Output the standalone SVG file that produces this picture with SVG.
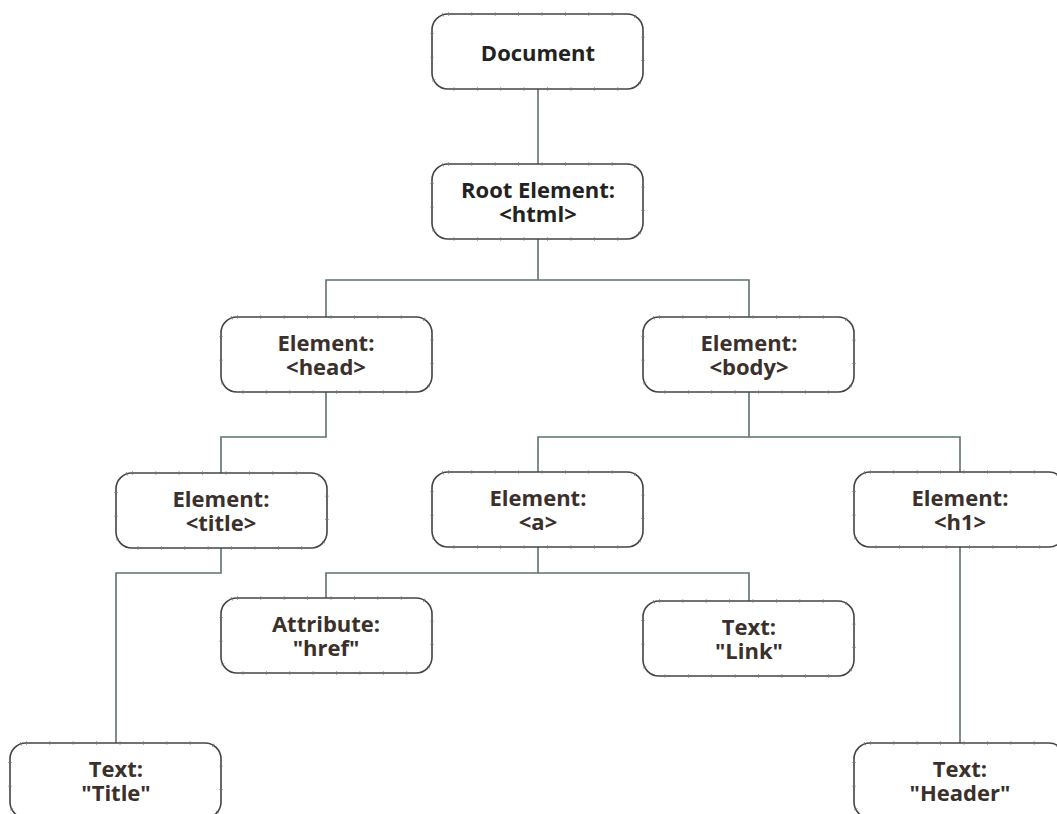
<svg xmlns="http://www.w3.org/2000/svg" width="1057" height="814" viewBox="0 0 1057 814">
<style>
.box{fill:#fff;stroke:#444;stroke-width:1.6}
.tick{fill:none;stroke:#777;stroke-width:3.5;stroke-dasharray:0.8 22.6}
.lbl{font-family:"Open Sans",sans-serif;font-weight:700;font-size:22px;fill:#3b302b;text-anchor:middle}
.dk{fill:#222}
.conn{fill:none;stroke:#5d736b;stroke-width:1.6}
</style>
<rect width="1057" height="814" fill="#fff"/>
<g id="connectors" class="conn">
<path d="M538 89V164"/>
<path d="M538 239V280M326 317V280H749V317"/>
<path d="M326 392V437H221V473"/>
<path d="M749 392V437M538 472V437H960V472"/>
<path d="M221 548V573H116V743"/>
<path d="M538 547V573M326 598V573H749V601"/>
<path d="M960 547V743"/>
</g>
<g id="document"><rect class="box" x="432" y="14" width="211" height="75" rx="16"/><rect class="tick" x="432" y="14" width="211" height="75" rx="16"/><text class="lbl dk" x="538" y="61">Document</text></g>
<g id="root"><rect class="box" x="432" y="164" width="211" height="75" rx="16"/><rect class="tick" x="432" y="164" width="211" height="75" rx="16"/><text class="lbl dk" x="538" y="198">Root Element:<tspan x="538" dy="24">&lt;html&gt;</tspan></text></g>
<g id="head"><rect class="box" x="221" y="317" width="211" height="75" rx="16"/><rect class="tick" x="221" y="317" width="211" height="75" rx="16"/><text class="lbl" x="326" y="351">Element:<tspan x="326" dy="24">&lt;head&gt;</tspan></text></g>
<g id="body"><rect class="box" x="643" y="317" width="211" height="75" rx="16"/><rect class="tick" x="643" y="317" width="211" height="75" rx="16"/><text class="lbl" x="749" y="351">Element:<tspan x="749" dy="24">&lt;body&gt;</tspan></text></g>
<g id="title"><rect class="box" x="116" y="473" width="211" height="75" rx="16"/><rect class="tick" x="116" y="473" width="211" height="75" rx="16"/><text class="lbl" x="221" y="507">Element:<tspan x="221" dy="24">&lt;title&gt;</tspan></text></g>
<g id="a"><rect class="box" x="432" y="472" width="211" height="75" rx="16"/><rect class="tick" x="432" y="472" width="211" height="75" rx="16"/><text class="lbl" x="538" y="506">Element:<tspan x="538" dy="24">&lt;a&gt;</tspan></text></g>
<g id="h1"><rect class="box" x="854" y="472" width="211" height="75" rx="16"/><rect class="tick" x="854" y="472" width="211" height="75" rx="16"/><text class="lbl" x="960" y="506">Element:<tspan x="960" dy="24">&lt;h1&gt;</tspan></text></g>
<g id="href"><rect class="box" x="221" y="598" width="211" height="75" rx="16"/><rect class="tick" x="221" y="598" width="211" height="75" rx="16"/><text class="lbl" x="326" y="632">Attribute:<tspan x="326" dy="24">"href"</tspan></text></g>
<g id="link"><rect class="box" x="643" y="601" width="211" height="75" rx="16"/><rect class="tick" x="643" y="601" width="211" height="75" rx="16"/><text class="lbl" x="749" y="635">Text:<tspan x="749" dy="24">"Link"</tspan></text></g>
<g id="text-title"><rect class="box" x="10" y="743" width="211" height="75" rx="16"/><rect class="tick" x="10" y="743" width="211" height="75" rx="16"/><text class="lbl" x="116" y="777">Text:<tspan x="116" dy="24">"Title"</tspan></text></g>
<g id="text-header"><rect class="box" x="854" y="743" width="211" height="75" rx="16"/><rect class="tick" x="854" y="743" width="211" height="75" rx="16"/><text class="lbl" x="960" y="777">Text:<tspan x="960" dy="24">"Header"</tspan></text></g>
</svg>
